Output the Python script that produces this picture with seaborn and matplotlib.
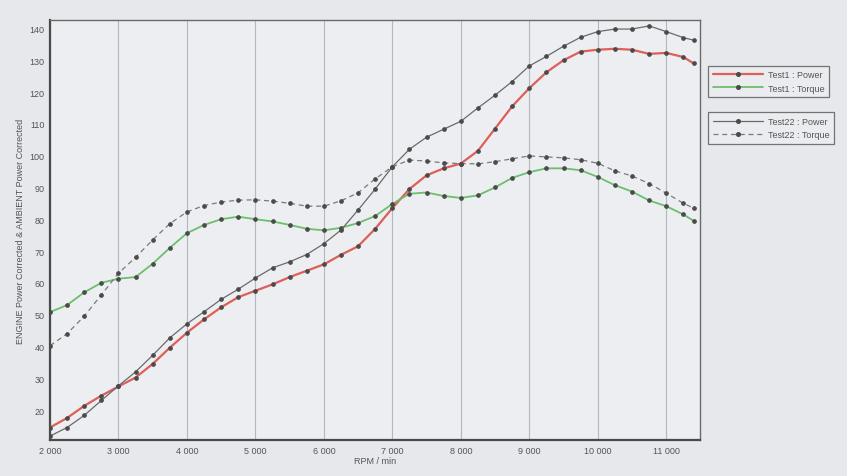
import matplotlib
matplotlib.use("Agg")
import matplotlib.pyplot as plt
from matplotlib.lines import Line2D
import seaborn as sns
import pandas as pd

# ---- data ----
rpm = [2000, 2250, 2500, 2750, 3000, 3250, 3500, 3750, 4000, 4250, 4500, 4750,
       5000, 5250, 5500, 5750, 6000, 6250, 6500, 6750, 7000, 7250, 7500, 7750,
       8000, 8250, 8500, 8750, 9000, 9250, 9500, 9750, 10000, 10250, 10500,
       10750, 11000, 11250, 11400]

test1_power = [14.5, 17.5, 21.3, 24.5, 27.4, 30.2, 34.5, 39.6, 44.3, 48.5, 52.3, 55.5,
               57.5, 59.5, 61.8, 63.8, 65.8, 68.8, 71.5, 77.0, 83.5, 89.5, 93.8, 96.0,
               97.5, 101.5, 108.5, 115.5, 121.2, 126.2, 130.0, 132.7, 133.3, 133.6, 133.3,
               132.0, 132.3, 131.0, 129.0]

test1_torque = [50.8, 53.0, 57.0, 60.0, 61.3, 61.8, 66.0, 71.0, 75.6, 78.2, 80.0, 80.8,
                80.0, 79.3, 78.2, 77.0, 76.5, 77.3, 78.8, 81.0, 84.8, 88.0, 88.4, 87.3,
                86.7, 87.5, 90.0, 93.0, 94.8, 96.0, 96.0, 95.4, 93.3, 90.7, 88.7,
                85.9, 84.1, 81.5, 79.5]

test22_power = [11.8, 14.5, 18.3, 23.0, 27.6, 32.0, 37.2, 42.7, 47.1, 50.9, 54.8, 58.0,
                61.5, 64.7, 66.6, 68.9, 72.3, 76.6, 82.9, 89.5, 96.5, 102.0, 105.8, 108.3,
                110.8, 115.0, 119.0, 123.3, 128.2, 131.2, 134.4, 137.2, 139.0, 139.8, 139.8,
                140.8, 139.0, 137.1, 136.3]

test22_torque = [40.2, 44.0, 49.5, 56.2, 63.0, 68.0, 73.5, 78.6, 82.3, 84.3, 85.4, 86.0,
                 86.1, 85.7, 85.0, 84.1, 84.1, 85.8, 88.3, 92.7, 96.5, 98.6, 98.3, 97.7,
                 97.5, 97.4, 98.1, 99.0, 99.9, 99.6, 99.3, 98.7, 97.6, 95.2, 93.6,
                 91.2, 88.2, 85.0, 83.5]

series_names = ["Test1 : Power", "Test1 : Torque", "Test22 : Power", "Test22 : Torque"]
x_ticks = [2000, 3000, 4000, 5000, 6000, 7000, 8000, 9000, 10000, 11000]
y_ticks = [20, 30, 40, 50, 60, 70, 80, 90, 100, 110, 120, 130, 140]

# ---- style ----
sns.set_theme(style="white")
plt.rcParams["font.family"] = ["Liberation Sans", "DejaVu Sans"]

paper = "#e6e8ec"
fig = plt.figure(figsize=(8.47, 4.77), dpi=100, facecolor=paper)
ax = fig.add_axes([0.059, 0.075, 0.768, 0.88])
ax.set_facecolor("#eceef1")

styles = {
    "Test1 : Power": dict(color="#dd5f58", lw=1.6, ls="-"),
    "Test1 : Torque": dict(color="#6cbf6c", lw=1.3, ls="-"),
    "Test22 : Power": dict(color="#6a6a6a", lw=0.9, ls="-"),
    "Test22 : Torque": dict(color="#7a7a7a", lw=0.9, ls=(0, (4, 3))),
}
data_map = {
    "Test1 : Power": test1_power,
    "Test1 : Torque": test1_torque,
    "Test22 : Power": test22_power,
    "Test22 : Torque": test22_torque,
}

for name in series_names:
    df = pd.DataFrame({"rpm": rpm, "value": data_map[name]})
    st = styles[name]
    sns.lineplot(data=df, x="rpm", y="value", ax=ax, color=st["color"],
                 linewidth=st["lw"], linestyle=st["ls"], marker="o",
                 markersize=2.6, markerfacecolor="#4a4a4a",
                 markeredgecolor="#4a4a4a", legend=False, zorder=3)

ax.set_xlim(2000, 11500)
ax.set_ylim(10.5, 142.5)
ax.set_xticks(x_ticks)
ax.set_xticklabels([f"{v:,}".replace(",", " ") for v in x_ticks])
ax.set_yticks(y_ticks)
ax.set_yticklabels([str(v) for v in y_ticks])
ax.tick_params(axis="both", labelsize=6.5, colors="#555555", length=2, pad=2)

ax.grid(axis="x", color="#b5b8bd", lw=0.8)
ax.grid(axis="y", visible=False)

for side in ["left", "bottom"]:
    ax.spines[side].set_color("#4a4a4a")
    ax.spines[side].set_linewidth(1.6)
for side in ["top", "right"]:
    ax.spines[side].set_color("#6a6a6a")
    ax.spines[side].set_linewidth(1.0)

ax.set_xlabel("RPM / min", fontsize=6.5, color="#555555", labelpad=1)
ax.set_ylabel("ENGINE Power Corrected & AMBIENT Power Corrected",
              fontsize=6.5, color="#555555", labelpad=3)

# ---- legends (two grouped boxes on the right) ----
def handle(name):
    st = styles[name]
    return Line2D([0], [0], color=st["color"], lw=st["lw"], ls=st["ls"],
                  marker="o", markersize=2.6, markerfacecolor="#4a4a4a",
                  markeredgecolor="#4a4a4a")

leg_kw = dict(fontsize=6.5, frameon=True, fancybox=False, handlelength=5.5,
              borderpad=0.5, labelspacing=0.5, handletextpad=0.6,
              edgecolor="#555555", facecolor="#eceef1", loc="upper left")
leg1 = fig.legend([handle(n) for n in series_names[:2]], series_names[:2],
                  bbox_to_anchor=(0.831, 0.870), **leg_kw)
leg2 = fig.legend([handle(n) for n in series_names[2:]], series_names[2:],
                  bbox_to_anchor=(0.831, 0.772), **leg_kw)
for lg in (leg1, leg2):
    lg.get_frame().set_linewidth(0.9)
    for t in lg.get_texts():
        t.set_color("#555555")

fig.savefig("out.png", dpi=100, facecolor=paper)
